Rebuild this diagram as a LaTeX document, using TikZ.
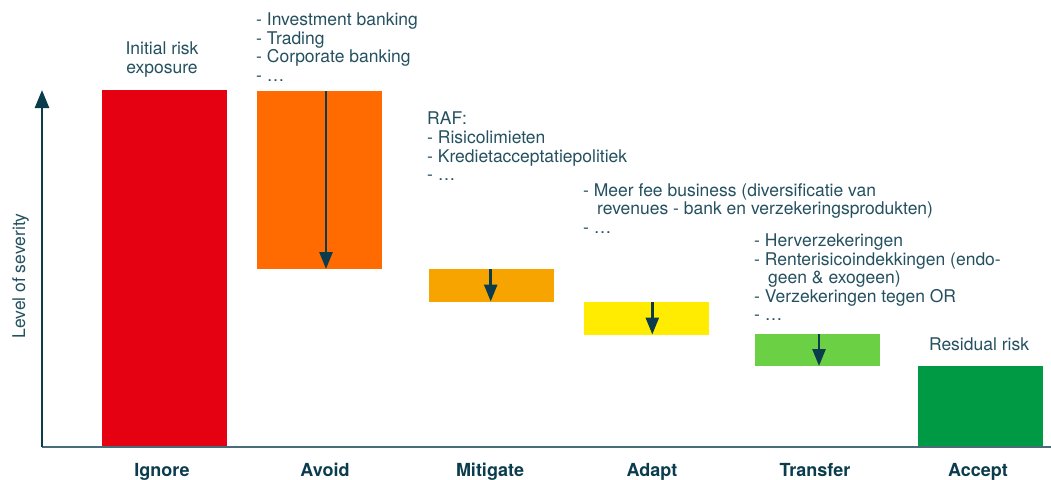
\documentclass[tikz,border=0pt]{standalone}
\usepackage{fontspec}
\setmainfont{TeX Gyre Heros}
\usetikzlibrary{arrows.meta}

\definecolor{axisteal}{HTML}{0B3C4D}
\definecolor{textteal}{HTML}{24505F}
\definecolor{riskred}{HTML}{E50012}
\definecolor{avoidorange}{HTML}{FF6B00}
\definecolor{mitigateamber}{HTML}{F7A400}
\definecolor{adaptyellow}{HTML}{FFEC00}
\definecolor{transfergreen}{HTML}{6CD044}
\definecolor{acceptgreen}{HTML}{009A44}

\tikzset{
  bar/.style={anchor=north west, inner sep=0pt, outer sep=0pt, minimum width=125pt},
  drop/.style={draw=axisteal, line width=2.6pt, -{Triangle[length=17pt,width=13pt]}},
  note/.style={anchor=north west, inner sep=0pt, align=left, text=textteal,
    font=\fontsize{17.5}{18.6}\selectfont},
  stage/.style={anchor=base, inner sep=0pt, text=axisteal,
    font=\fontsize{18}{20}\selectfont\bfseries},
}

\begin{document}
\begin{tikzpicture}[x=1pt,y=-1pt]
\useasboundingbox (0,0) rectangle (1051,479);

% severity bars
\node[bar, fill=riskred,       minimum height=357pt] (ignore)   at (102,90)  {};
\node[bar, fill=avoidorange,   minimum height=178pt] (avoid)    at (257,91)  {};
\node[bar, fill=mitigateamber, minimum height=32.5pt] (mitigate) at (429,269) {};
\node[bar, fill=adaptyellow,   minimum height=32.5pt] (adapt)    at (584,302) {};
\node[bar, fill=transfergreen, minimum height=32pt]  (transfer) at (755,334) {};
\node[bar, fill=acceptgreen,   minimum height=81pt]  (accept)   at (918,366) {};

% axes
\coordinate (origin) at (42,447);
\coordinate (ytop)   at (42,90);
\coordinate (xend)   at (1051,447);
\draw[axisteal!75, line width=1.3pt] (origin) -- (xend);
\draw[axisteal, line width=2.6pt, -{Triangle[length=18pt,width=14pt]}] (origin) -- (ytop);

% reductions within each bar
\draw[drop] ([xshift=6.5pt]avoid.north)    -- ([xshift=6.5pt]avoid.south);
\draw[drop] ([xshift=-0.8pt]mitigate.north) -- ([xshift=-0.8pt]mitigate.south);
\draw[drop] ([xshift=5.8pt]adapt.north)    -- ([xshift=5.8pt]adapt.south);
\draw[drop] ([xshift=1.5pt]transfer.north) -- ([xshift=1.5pt]transfer.south);

% axis label
\node[rotate=90, anchor=base, inner sep=0pt, text=textteal,
  font=\fontsize{17.5}{18.4}\selectfont] (severity) at (25,276) {Level of severity};

% annotations
\node[note, anchor=north, align=center] (initial) at (162,42) {Initial risk\\exposure};
\node[note] (avoidnote) at (256,12.5)
  {- Investment banking\\- Trading\\- Corporate banking\\- …};
\node[note] (mitigatenote) at (427,112)
  {RAF:\\- Risicolimieten\\- Kredietacceptatiepolitiek\\- …};
\node[note] (adaptnote) at (583,183)
  {- Meer fee business (diversificatie van\\\hspace*{14pt}revenues - bank en verzekeringsprodukten)\\- …};
\node[note] (transfernote) at (754,233.5)
  {- Herverzekeringen\\- Renterisicoindekkingen (endo-\\\hspace*{14pt}geen \& exogeen)\\- Verzekeringen tegen OR\\- …};
\node[note, anchor=base] (residual) at (979,350) {Residual risk};

% stage labels
\node[stage] (ignorelabel)   at (162,476.5) {Ignore};
\node[stage] (avoidlabel)    at (325,476.5) {Avoid};
\node[stage] (mitigatelabel) at (490,476.5) {Mitigate};
\node[stage] (adaptlabel)    at (652,476.5) {Adapt};
\node[stage] (transferlabel) at (815,476.5) {Transfer};
\node[stage] (acceptlabel)   at (978,476.5) {Accept};
\end{tikzpicture}
\end{document}
